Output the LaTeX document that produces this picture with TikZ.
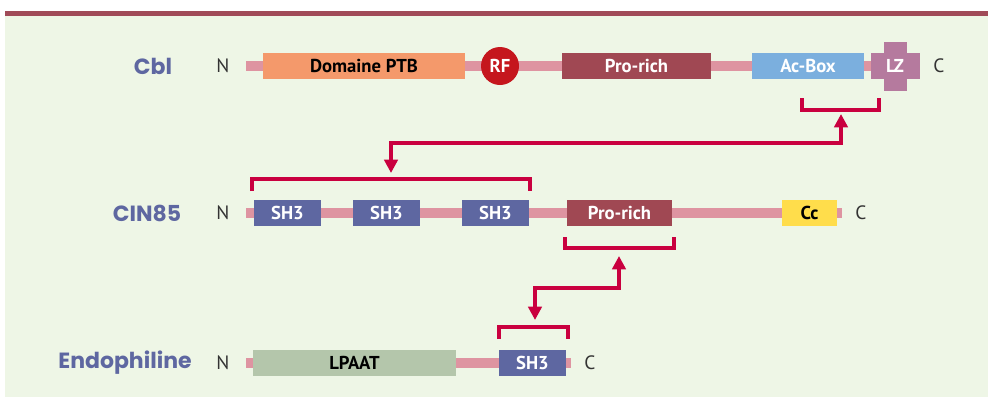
\documentclass[tikz,border=0pt]{standalone}
\usepackage{fontspec}
\setmainfont{PT Sans}
\newfontfamily\namefont{Poppins}
\usetikzlibrary{arrows.meta}

\definecolor{bgcol}{HTML}{EEF6E6}
\definecolor{barcol}{HTML}{A04B58}
\definecolor{spinecol}{HTML}{DE94A1}
\definecolor{ptbcol}{HTML}{F4996B}
\definecolor{rfcol}{HTML}{C5161D}
\definecolor{procol}{HTML}{A04853}
\definecolor{accol}{HTML}{7BAFDE}
\definecolor{lzcol}{HTML}{B57A9E}
\definecolor{shcol}{HTML}{5E67A1}
\definecolor{cccol}{HTML}{FFDD4B}
\definecolor{lpcol}{HTML}{B4C6AB}
\definecolor{linkcol}{HTML}{C9003F}

\begin{document}
\begin{tikzpicture}[x=0.75pt, y=-0.75pt,
	dom/.style={rectangle, inner sep=0pt, minimum height=19.5pt, text=white,
		font=\fontsize{14}{15}\selectfont\bfseries},
	spine/.style={line width=7.5pt, color=spinecol},
	prot/.style={font=\namefont\fontsize{16.5}{17}\selectfont\bfseries, text=shcol},
	term/.style={font=\fontsize{14.5}{15}\selectfont, text=black!80},
	brk/.style={line width=3pt, color=linkcol},
	link/.style={line width=2.5pt, color=linkcol, {Triangle[width=10pt,length=10pt]}-{Triangle[width=10pt,length=10pt]}}]
	\useasboundingbox (0,0) rectangle (988,397);
	\fill[bgcol] (5,16) rectangle (988,397);
	\fill[barcol] (5,11) rectangle (988,16);

	% Cbl
	\node[prot] (cbl) at (153,66) {Cbl};
	\node[term] (cbln) at (223,66) {N};
	\node[term] (cblc) at (939,66) {C};
	\coordinate (cbls) at (246,66);
	\coordinate (cble) at (916,66);
	\draw[spine] (cbls) -- (cble);
	\node[dom, fill=ptbcol, text=black, minimum width=152pt] (ptb) at (364,66) {Domaine PTB};
	\node[circle, fill=rfcol, inner sep=0pt, minimum size=28.5pt, text=white,
		font=\fontsize{14}{15}\selectfont\bfseries] (rf) at (500,66) {RF};
	\node[dom, fill=procol, minimum width=112pt] (cblpro) at (636.5,66) {Pro-rich};
	\node[dom, fill=accol, minimum width=84pt] (acbox) at (808,66) {Ac-Box};
	\node[dom, fill=lzcol, minimum width=17.25pt, minimum height=36.75pt] (lzv) at (895,66) {};
	\node[dom, fill=lzcol, minimum width=36.75pt] (lz) at (895,66) {LZ};

	% CIN85
	\node[prot] (cin) at (147,213) {CIN85};
	\node[term] (cinn) at (223,213) {N};
	\node[term] (cinc) at (861,213) {C};
	\coordinate (cins) at (246,213);
	\coordinate (cine) at (842,213);
	\draw[spine] (cins) -- (cine);
	\node[dom, fill=shcol, minimum width=50.25pt] (sha) at (287.5,213) {SH3};
	\node[dom, fill=shcol, minimum width=50.25pt] (shb) at (386.5,213) {SH3};
	\node[dom, fill=shcol, minimum width=50.25pt] (shc) at (495.5,213) {SH3};
	\node[dom, fill=procol, minimum width=78.75pt] (cinpro) at (619.5,213) {Pro-rich};
	\node[dom, fill=cccol, text=black, minimum width=41.25pt] (cc) at (809.5,213) {Cc};

	% Endophiline
	\node[prot] (endo) at (125,363) {Endophiline};
	\node[term] (endon) at (223,363) {N};
	\node[term] (endoc) at (590,363) {C};
	\coordinate (endos) at (246,363);
	\coordinate (endoe) at (571,363);
	\draw[spine] (endos) -- (endoe);
	\node[dom, fill=lpcol, text=black, minimum width=152.25pt] (lpaat) at (354.5,363) {LPAAT};
	\node[dom, fill=shcol, minimum width=50.25pt] (shd) at (532.5,363) {SH3};

	% brackets
	\coordinate (bral) at (802,98);
	\coordinate (brar) at (879,98);
	\draw[brk] (bral) -- ++(0,12) -| (brar);
	\coordinate (brbl) at (252,191);
	\coordinate (brbr) at (530,191);
	\draw[brk] (brbl) -- ++(0,-12) -| (brbr);
	\coordinate (brcl) at (565,237);
	\coordinate (brcr) at (674,237);
	\draw[brk] (brcl) -- ++(0,11) -| (brcr);
	\coordinate (brdl) at (499,339);
	\coordinate (brdr) at (568,339);
	\draw[brk] (brdl) -- ++(0,-12) -| (brdr);

	% links
	\coordinate (bram) at (841,114);
	\coordinate (brbm) at (391,173);
	\draw[link] (bram) -- ++(0,29) -| (brbm);
	\coordinate (brcm) at (619,256);
	\coordinate (brdm) at (535,320);
	\draw[link] (brcm) -- ++(0,32) -| (brdm);
\end{tikzpicture}
\end{document}
